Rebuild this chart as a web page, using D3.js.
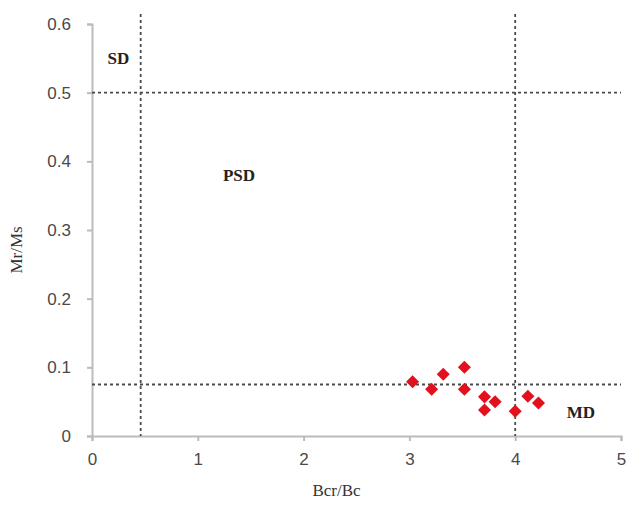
<!DOCTYPE html>
<html>
<head>
  <meta charset="utf-8">
  <script src="https://d3js.org/d3.v7.min.js"></script>
  <style>
    body { margin: 0; background: #fff; }
    .tick text { font-family: "Liberation Sans", Arial, sans-serif; font-size: 17px; fill: #4a4a4a; }
    .axis path, .axis line { stroke: #bbb; stroke-width: 2; }
  </style>
</head>
<body>
  <svg class="chart" width="629" height="514"></svg>
  <script>
    // data
    const bcrBc = [3.03, 3.21, 3.32, 3.52, 3.52, 3.71, 3.71, 3.81, 4.00, 4.12, 4.22];
    const mrMs  = [0.079, 0.068, 0.090, 0.100, 0.068, 0.057, 0.038, 0.050, 0.036, 0.058, 0.048];
    const xTicks = [0, 1, 2, 3, 4, 5];
    const yTicks = [0, 0.1, 0.2, 0.3, 0.4, 0.5, 0.6];
    const vLines = [0.46, 4];
    const hLines = [0.075, 0.5];
    const regions = [
      { name: "SD",  x: 0.25, y: 0.55 },
      { name: "PSD", x: 1.39, y: 0.38 },
      { name: "MD",  x: 4.62, y: 0.035 }
    ];

    const MARGIN = { top: 24, right: 8, bottom: 78, left: 92 };
    const WIDTH  = 629 - MARGIN.left - MARGIN.right;
    const HEIGHT = 514 - MARGIN.top - MARGIN.bottom;

    const svg = d3.select(".chart")
      .append("g").attr("transform", `translate(${MARGIN.left}, ${MARGIN.top})`);

    const xScale = d3.scaleLinear().domain([0, 5]).range([0, WIDTH]);
    const yScale = d3.scaleLinear().domain([0, 0.6]).range([HEIGHT, 0]);

    // axes
    svg.append("g").attr("class", "axis")
      .attr("transform", `translate(0, ${HEIGHT})`)
      .call(d3.axisBottom(xScale).tickValues(xTicks).tickSize(5).tickPadding(12).tickFormat(d3.format("d")));
    svg.append("g").attr("class", "axis")
      .call(d3.axisLeft(yScale).tickValues(yTicks).tickSize(5).tickPadding(16)
        .tickFormat(d => d === 0 ? "0" : d3.format(".1f")(d)));

    // dashed boundaries
    svg.selectAll(".vline").data(vLines).enter().append("line")
      .attr("x1", d => xScale(d)).attr("x2", d => xScale(d))
      .attr("y1", -10).attr("y2", HEIGHT)
      .attr("stroke", "#4a4a4a").attr("stroke-width", 1.8).attr("stroke-dasharray", "3,3");
    svg.selectAll(".hline").data(hLines).enter().append("line")
      .attr("x1", 0).attr("x2", WIDTH)
      .attr("y1", d => yScale(d)).attr("y2", d => yScale(d))
      .attr("stroke", "#4a4a4a").attr("stroke-width", 1.8).attr("stroke-dasharray", "3,3");

    // points (square turned 45 degrees)
    const pts = bcrBc.map((x, i) => ({ x: x, y: mrMs[i] }));
    svg.selectAll(".pt").data(pts).enter().append("path")
      .attr("d", d3.symbol().type(d3.symbolSquare).size(85))
      .attr("transform", d => `translate(${xScale(d.x)}, ${yScale(d.y)}) rotate(45)`)
      .attr("fill", "#e3101e");

    // region labels
    svg.selectAll(".region").data(regions).enter().append("text")
      .attr("x", d => xScale(d.x)).attr("y", d => yScale(d.y))
      .attr("text-anchor", "middle").attr("dy", "0.35em")
      .style("font-family", "Liberation Serif, Times New Roman, serif")
      .style("font-weight", "bold").style("font-size", "17px").style("fill", "#222")
      .text(d => d.name);

    // axis titles
    svg.append("text")
      .attr("x", WIDTH / 2 - 20).attr("y", HEIGHT + 60)
      .attr("text-anchor", "middle")
      .style("font-family", "Liberation Serif, Times New Roman, serif").style("font-size", "17px").style("fill", "#333")
      .text("Bcr/Bc");
    svg.append("text")
      .attr("transform", `translate(${-70}, ${HEIGHT / 2 + 20}) rotate(-90)`)
      .attr("text-anchor", "middle")
      .style("font-family", "Liberation Serif, Times New Roman, serif").style("font-size", "17px").style("fill", "#333")
      .text("Mr/Ms");
  </script>
</body>
</html>
